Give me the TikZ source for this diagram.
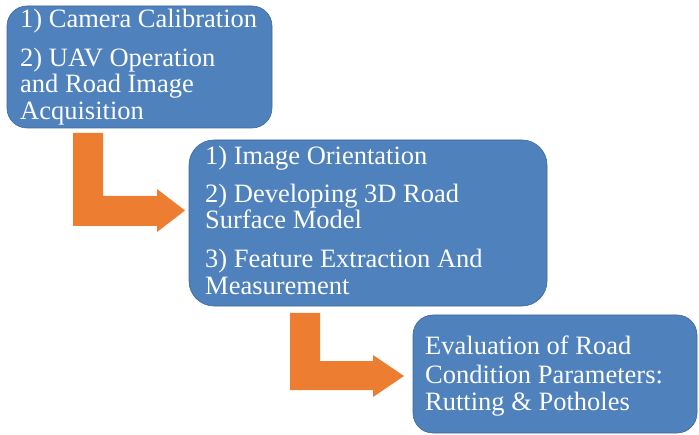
\documentclass[tikz,border=0pt]{standalone}
\usepackage{fontspec}
\setmainfont{Liberation Serif}
\definecolor{boxblue}{HTML}{4F81BD}
\definecolor{arroworange}{HTML}{ED7D31}
\begin{document}
\begin{tikzpicture}[x=1bp,y=-1bp,
  box/.style={draw=boxblue!80!black, line width=0.6bp, fill=boxblue, rounded corners=20bp, inner sep=0pt, outer sep=0pt, anchor=north west},
  txt/.style={text=white, inner sep=0pt, anchor=base west, font=\fontsize{26.5bp}{28bp}\selectfont},
  bentarrow/.style={fill=arroworange, draw=none}]
\useasboundingbox (0,0) rectangle (699,435);
% boxes
\node[box, minimum width=265bp, minimum height=122bp] (b1) at (7,6) {};
\node[box, rounded corners=25bp, minimum width=358bp, minimum height=166bp] (b2) at (189,140) {};
\node[box, minimum width=284bp, minimum height=118bp] (b3) at (413,315) {};
% text box 1
\node[txt] (t11) at (20,28) {1) Camera Calibration};
\node[txt] (t12) at (20,67) {2) UAV Operation};
\node[txt] (t13) at (20,93) {and Road Image};
\node[txt] (t14) at (20,120) {Acquisition};
% text box 2
\node[txt] (t21) at (205,165) {1) Image Orientation};
\node[txt] (t22) at (205,203) {2) Developing 3D Road};
\node[txt] (t23) at (205,229) {Surface Model};
\node[txt] (t24) at (205,268) {3) Feature Extraction And};
\node[txt] (t25) at (205,295) {Measurement};
% text box 3
\node[txt] (t31) at (425,354) {Evaluation of Road};
\node[txt] (t32) at (425,383) {Condition Parameters:};
\node[txt] (t33) at (425,410) {Rutting \& Potholes};
% bent arrows
\coordinate (a1) at (73,133);
\coordinate (a2) at (404,376);
\fill[bentarrow] (a1) -- (103,133) -- (103,196) -- (157,196) -- (157,189) -- (185,210.5) -- (157,232) -- (157,226) -- (73,226) -- cycle;
\fill[bentarrow] (290,313) -- (320,313) -- (320,361) -- (373,361) -- (373,355) -- (a2) -- (373,397) -- (373,390) -- (290,390) -- cycle;
\end{tikzpicture}
\end{document}
